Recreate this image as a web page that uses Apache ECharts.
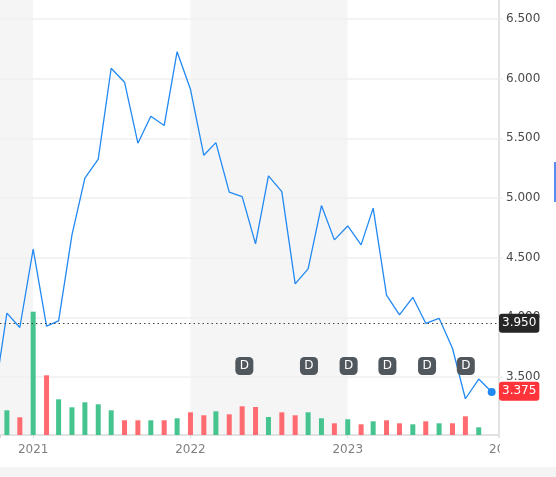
<!DOCTYPE html>
<html>
<head>
<meta charset="utf-8">
<script src="https://cdn.jsdelivr.net/npm/echarts@6/dist/echarts.min.js"></script>
<style>
html,body{margin:0;padding:0;background:#fff;}
#chart{width:556px;height:477px;}
</style>
</head>
<body>
<div id="chart"></div>
<script>
// Monthly closing prices (plotted at first of month)
const priceDates = ['2020-10-01','2020-11-01','2020-12-01',
  '2021-01-01','2021-02-01','2021-03-01','2021-04-01','2021-05-01','2021-06-01','2021-07-01','2021-08-01','2021-09-01','2021-10-01','2021-11-01','2021-12-01',
  '2022-01-01','2022-02-01','2022-03-01','2022-04-01','2022-05-01','2022-06-01','2022-07-01','2022-08-01','2022-09-01','2022-10-01','2022-11-01','2022-12-01',
  '2023-01-01','2023-02-01','2023-03-01','2023-04-01','2023-05-01','2023-06-01','2023-07-01','2023-08-01','2023-09-01','2023-10-01','2023-11-01','2023-12-01'];
const prices = [3.29,4.035,3.915,
  4.571,3.926,3.971,4.691,5.166,5.325,6.087,5.970,5.459,5.685,5.607,6.226,
  5.911,5.358,5.464,5.049,5.012,4.616,5.185,5.054,4.281,4.406,4.937,4.649,
  4.766,4.607,4.915,4.187,4.020,4.168,3.950,3.992,3.741,3.318,3.483,3.375];
// Monthly volume (millions), Nov 2020 .. Nov 2023
const volumeDates = priceDates.slice(1, 38);
const volumes = [4.94,3.54,
  24.66,11.94,7.14,5.54,6.54,6.14,4.94,2.94,2.94,2.94,2.94,3.34,
  4.54,3.94,4.74,4.14,5.74,5.6,3.6,4.54,3.94,4.54,3.34,2.34,
  3.14,2.14,2.74,2.94,2.34,2.14,2.74,2.34,2.34,3.74,1.54];
// Dividend events
const dividendDates = ['2022-05-06','2022-10-03','2023-01-03','2023-04-03','2023-07-04','2023-10-02'];
const previousClose = 3.95;
const yearTicks = ['2021-01-01','2022-01-01','2023-01-01'];
const priceTicks = ['3.500','4.000','4.500','5.000','5.500','6.000','6.500'];
const xRange = ['2020-10-16','2023-12-18'];
const priceRange = [3.0, 6.659];

const GREEN = '#45c48f', RED = '#ff6b70', BLUE = '#2189f3';
const DIV_ROW = 3.592;

const ts = s => { const p = s.split('-').map(Number); return Date.UTC(p[0], p[1]-1, p[2]); };

const volData = volumes.map((v, i) => {
  const pi = i + 1;
  const up = prices[pi] >= prices[pi - 1];
  return { value: [ts(volumeDates[i]), v], itemStyle: { color: up ? GREEN : RED } };
});
const lineData = priceDates.map((d, i) => [ts(d), prices[i]]);
const lastIdx = prices.length - 1;
const bandTicks = [xRange[0]].concat(yearTicks, [xRange[1]]).map(ts);

const chart = echarts.init(document.getElementById('chart'), null, { renderer: 'canvas' });
const font = 'DejaVu Sans';
chart.setOption({
  animation: false,
  backgroundColor: '#ffffff',
  textStyle: { fontFamily: font },
  grid: [
    { left: 0, right: 57, top: 0, bottom: 42 },
    { left: 0, right: 57, top: 0, bottom: 40.3 }
  ],
  xAxis: [
    {
      type: 'value', gridIndex: 0,
      min: ts(xRange[0]), max: ts(xRange[1]),
      axisLine: { show: true, lineStyle: { color: '#e2e2e2', width: 2 } },
      axisTick: { show: true, length: 3, lineStyle: { color: '#d8d8d8', width: 1 }, customValues: bandTicks },
      axisLabel: {
        customValues: yearTicks.map(ts), margin: 9,
        formatter: v => String(new Date(v).getUTCFullYear()),
        color: '#808080', fontSize: 12, fontFamily: font
      },
      splitLine: { show: false },
      splitArea: { show: true, areaStyle: { color: ['#f5f5f5', '#ffffff'] } }
    },
    {
      type: 'value', gridIndex: 1,
      min: ts(xRange[0]), max: ts(xRange[1]),
      show: false
    }
  ],
  yAxis: [
    { type: 'value', gridIndex: 0, min: 0, max: 87, show: false },
    {
      type: 'value', gridIndex: 1, position: 'right',
      min: priceRange[0], max: priceRange[1], interval: 0.5, z: 1,
      axisLine: { show: true, lineStyle: { color: '#e2e2e2', width: 2 } },
      axisTick: { show: true, length: 4, lineStyle: { color: '#efefef', width: 1.5 } },
      axisLabel: {
        margin: 7, color: '#4a4a4a', fontSize: 12, fontFamily: font,
        showMinLabel: false, showMaxLabel: false,
        formatter: v => priceTicks.includes(v.toFixed(3)) ? v.toFixed(3) : ''
      },
      splitLine: { show: true, showMinLine: false, showMaxLine: false, lineStyle: { color: '#efefef', width: 1.5 } }
    }
  ],
  series: [
    {
      type: 'bar', xAxisIndex: 0, yAxisIndex: 0,
      data: volData, barWidth: 5, z: 2
    },
    {
      type: 'line', xAxisIndex: 1, yAxisIndex: 1,
      data: lineData, showSymbol: false, symbol: 'none',
      lineStyle: { color: BLUE, width: 1.3 }, z: 4,
      markLine: {
        silent: true, symbol: 'none',
        data: [
          {
            yAxis: previousClose,
            lineStyle: { color: '#444', type: [1.5, 3], width: 1 },
            label: {
              show: true, position: 'end', distance: 0, formatter: previousClose.toFixed(3),
              color: '#ffffff', backgroundColor: '#262626', borderRadius: 3,
              padding: [2, 3, 2, 3], fontSize: 12, lineHeight: 15, fontFamily: font
            }
          },
          {
            yAxis: prices[lastIdx],
            lineStyle: { color: 'rgba(0,0,0,0)', width: 0 },
            label: {
              show: true, position: 'end', distance: 0, formatter: prices[lastIdx].toFixed(3),
              color: '#ffffff', backgroundColor: '#ff333a', borderRadius: 3,
              padding: [2, 3, 2, 3], fontSize: 12, lineHeight: 15, fontFamily: font
            }
          }
        ]
      }
    },
    {
      type: 'scatter', xAxisIndex: 1, yAxisIndex: 1,
      data: [lineData[lastIdx]], symbol: 'circle', symbolSize: 8,
      itemStyle: { color: BLUE, opacity: 1 }, z: 5
    },
    {
      type: 'scatter', xAxisIndex: 1, yAxisIndex: 1,
      data: dividendDates.map(d => [ts(d), DIV_ROW]),
      symbol: 'roundRect', symbolSize: [18, 18],
      itemStyle: { color: '#50575d', opacity: 1 }, z: 5,
      label: { show: true, formatter: 'D', position: 'inside', color: '#ffffff', fontSize: 12, fontFamily: font }
    }
  ],
  graphic: [
    { type: 'text', z: 10, left: 489, top: 444, style: { text: '2024', fill: '#808080', font: '12px "DejaVu Sans"' } },
    { type: 'rect', z: 11, left: 500, top: 440, shape: { width: 56, height: 26 }, style: { fill: '#ffffff' } },
    { type: 'rect', z: 12, left: 0, top: 467, shape: { width: 556, height: 10 }, style: { fill: '#f4f4f4' } },
    { type: 'rect', z: 12, left: 554, top: 162, shape: { width: 2, height: 40 }, style: { fill: '#5b8cf0' } }
  ]
});
</script>
</body>
</html>
